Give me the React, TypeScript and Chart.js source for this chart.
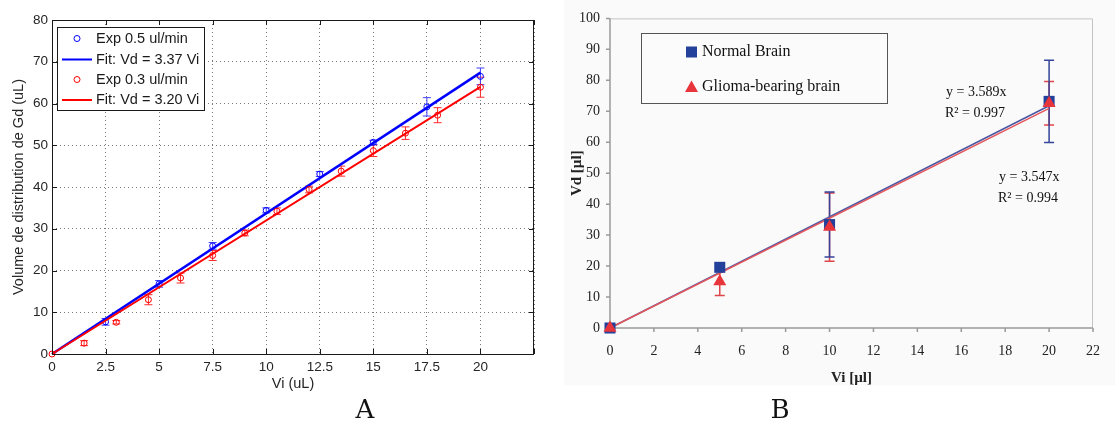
import React, { useEffect, useRef } from "react";
import { Chart, registerables } from "chart.js";
Chart.register(...registerables);

const SANS = "'Liberation Sans', Arial, Helvetica, sans-serif";
const SERIF = "'Liberation Serif', 'Times New Roman', serif";

// ---------------- Panel A data ----------------
const aXTickValues = [0, 2.5, 5, 7.5, 10, 12.5, 15, 17.5, 20, 22.5];
const aXTickLabels = ["0", "2.5", "5", "7.5", "10", "12.5", "15", "17.5", "20", ""];
const aYTickValues = [0, 10, 20, 30, 40, 50, 60, 70, 80];
const aYTickLabels = ["0", "10", "20", "30", "40", "50", "60", "70", "80"];

const exp05X = [2.5, 5, 7.5, 10, 12.5, 15, 17.5, 20];
const exp05Y = [7.7, 16.8, 25.9, 34.4, 43.1, 50.7, 59.2, 66.5];
const exp05Err = [0.8, 0.8, 0.8, 0.6, 0.6, 0.5, 2.2, 2.0];

const exp03X = [0, 1.5, 3, 4.5, 6, 7.5, 9, 10.5, 12, 13.5, 15, 16.5, 18, 20];
const exp03Y = [0, 2.6, 7.6, 13.0, 18.2, 23.6, 29.0, 34.2, 39.4, 43.8, 48.7, 52.9, 57.2, 63.9];
const exp03Err = [0, 0.6, 0.4, 1.2, 1.2, 1.2, 0.7, 0.8, 0.8, 1.2, 1.4, 1.5, 1.8, 2.4];

const aFitX = [0, 20];
const fit05Slope = 3.37;
const fit03Slope = 3.2;
const aLegendLabels = ["Exp 0.5 ul/min", "Fit: Vd = 3.37 Vi", "Exp 0.3 ul/min", "Fit: Vd = 3.20 Vi"];
const aXTitle = "Vi (uL)";
const aYTitle = "Volume de distribution de Gd (uL)";

// ---------------- Panel B data ----------------
const bXTickValues = [0, 2, 4, 6, 8, 10, 12, 14, 16, 18, 20, 22];
const bYTickValues = [0, 10, 20, 30, 40, 50, 60, 70, 80, 90, 100];

const normalX = [0, 5, 10, 20];
const normalY = [0, 19.6, 33.4, 73.2];
const normalErr = [0, 0, 10.5, 13.3];

const gliomaX = [0, 5, 10, 20];
const gliomaY = [0, 15, 32.6, 72.6];
const gliomaErr = [0, 4.5, 11, 7];

const bFitX = [0, 20];
const normalSlope = 3.589;
const gliomaSlope = 3.547;
const bLegendLabels = ["Normal Brain", "Glioma-bearing brain"];
const bAnnotations = [
  ["y = 3.589x", "R² = 0.997"],
  ["y = 3.547x", "R² = 0.994"],
];
const bXTitle = "Vi [µl]";
const bYTitle = "Vd [µl]";

const toPts = (xs: number[], ys: number[]) => xs.map((x, i) => ({ x, y: ys[i] }));
const fitPts = (xs: number[], k: number) => xs.map((x) => ({ x, y: k * x }));

const errorBarPlugin = {
  id: "errorBars",
  beforeDatasetsDraw(chart: any, _a: any, opts: any) {
    const { ctx, scales } = chart;
    const x = scales.x, y = scales.y;
    const cap = opts.cap ?? 4;
    chart.data.datasets.forEach((ds: any) => {
      if (!ds.errors) return;
      ctx.save();
      ctx.strokeStyle = ds.errorColor;
      ctx.lineWidth = opts.width ?? 1;
      ds.data.forEach((p: any, i: number) => {
        const e = ds.errors[i];
        if (!e) return;
        const px = x.getPixelForValue(p.x);
        const y1 = y.getPixelForValue(p.y - e);
        const y2 = y.getPixelForValue(p.y + e);
        ctx.beginPath();
        ctx.moveTo(px, y1);
        ctx.lineTo(px, y2);
        ctx.moveTo(px - cap, y1);
        ctx.lineTo(px + cap, y1);
        ctx.moveTo(px - cap, y2);
        ctx.lineTo(px + cap, y2);
        ctx.stroke();
      });
      ctx.restore();
    });
  },
};

const boxA = {
  id: "boxA",
  afterDatasetsDraw(chart: any) {
    const { ctx, chartArea: a, scales } = chart;
    ctx.save();
    ctx.strokeStyle = "#1a1a1a";
    ctx.lineWidth = 1;
    ctx.strokeRect(a.left + 0.5, a.top + 0.5, a.right - a.left - 1, a.bottom - a.top);
    ctx.beginPath();
    aXTickValues.forEach((v) => {
      const px = Math.round(scales.x.getPixelForValue(v)) + 0.5;
      ctx.moveTo(px, a.bottom);
      ctx.lineTo(px, a.bottom - 5);
      ctx.moveTo(px, a.top);
      ctx.lineTo(px, a.top + 5);
    });
    aYTickValues.forEach((v) => {
      const py = Math.round(scales.y.getPixelForValue(v)) + 0.5;
      ctx.moveTo(a.left, py);
      ctx.lineTo(a.left + 5, py);
      ctx.moveTo(a.right, py);
      ctx.lineTo(a.right - 5, py);
    });
    ctx.stroke();

    // legend
    const L = 57.5, T = 27.5, W = 147, H = 83;
    ctx.fillStyle = "#ffffff";
    ctx.fillRect(L, T, W, H);
    ctx.strokeStyle = "#1a1a1a";
    ctx.strokeRect(L, T, W, H);
    const rows = [38.5, 59.5, 79.5, 100];
    const cols = ["#0000ff", "#0000ff", "#ff0000", "#ff0000"];
    rows.forEach((ry, i) => {
      ctx.strokeStyle = cols[i];
      if (i % 2 === 0) {
        ctx.lineWidth = 1;
        ctx.beginPath();
        ctx.arc(77, ry, 3, 0, Math.PI * 2);
        ctx.stroke();
      } else {
        ctx.lineWidth = 2;
        ctx.beginPath();
        ctx.moveTo(62, ry);
        ctx.lineTo(92, ry);
        ctx.stroke();
      }
      ctx.fillStyle = "#1a1a1a";
      ctx.font = `14.5px ${SANS}`;
      ctx.textBaseline = "middle";
      ctx.textAlign = "left";
      ctx.fillText(aLegendLabels[i], 96, ry);
    });
    ctx.restore();
  },
};

const axesB = {
  id: "axesB",
  beforeDatasetsDraw(chart: any) {
    const { ctx, chartArea: a, scales } = chart;
    ctx.save();
    ctx.strokeStyle = "#c4c4c4";
    ctx.lineWidth = 1;
    ctx.beginPath();
    ctx.moveTo(a.left, a.top + 0.5);
    ctx.lineTo(a.right - 0.5, a.top + 0.5);
    ctx.lineTo(a.right - 0.5, a.bottom);
    ctx.stroke();
    ctx.strokeStyle = "#9a9a9a";
    ctx.lineWidth = 1.5;
    ctx.beginPath();
    ctx.moveTo(a.left, a.top);
    ctx.lineTo(a.left, a.bottom);
    ctx.lineTo(a.right, a.bottom);
    bXTickValues.forEach((v) => {
      const px = scales.x.getPixelForValue(v);
      ctx.moveTo(px, a.bottom);
      ctx.lineTo(px, a.bottom + 4);
    });
    bYTickValues.forEach((v) => {
      const py = scales.y.getPixelForValue(v);
      ctx.moveTo(a.left, py);
      ctx.lineTo(a.left - 4, py);
    });
    ctx.stroke();
    ctx.restore();
  },
  afterDatasetsDraw(chart: any) {
    const { ctx } = chart;
    ctx.save();
    // legend
    ctx.fillStyle = "#fbfbfb";
    ctx.fillRect(81.5, 33.5, 246, 70);
    ctx.strokeStyle = "#555";
    ctx.lineWidth = 1;
    ctx.strokeRect(81.5, 33.5, 246, 70);
    ctx.fillStyle = "#23409a";
    ctx.fillRect(126, 46.5, 11, 11);
    ctx.fillStyle = "#e8353b";
    ctx.beginPath();
    ctx.moveTo(131.5, 80.5);
    ctx.lineTo(138, 92);
    ctx.lineTo(125, 92);
    ctx.closePath();
    ctx.fill();
    ctx.fillStyle = "#111";
    ctx.font = `16px ${SERIF}`;
    ctx.textBaseline = "middle";
    ctx.textAlign = "left";
    ctx.fillText(bLegendLabels[0], 142, 52);
    ctx.fillText(bLegendLabels[1], 142, 87);
    // annotations
    ctx.font = `14px ${SERIF}`;
    ctx.fillText(bAnnotations[0][0], 386, 92);
    ctx.fillText(bAnnotations[0][1], 385, 113);
    ctx.fillText(bAnnotations[1][0], 439, 177);
    ctx.fillText(bAnnotations[1][1], 438, 198);
    ctx.restore();
  },
};

function PanelA() {
  const ref = useRef<HTMLCanvasElement>(null);
  useEffect(() => {
    const chart = new Chart(ref.current as HTMLCanvasElement, {
      type: "scatter",
      data: {
        datasets: [
          {
            label: aLegendLabels[3],
            type: "line",
            data: fitPts(aFitX, fit03Slope),
            borderColor: "#ff0000",
            borderWidth: 2,
            pointRadius: 0,
            clip: false,
            order: 0,
          } as any,
          {
            label: aLegendLabels[2],
            data: toPts(exp03X, exp03Y),
            pointStyle: "circle",
            pointRadius: 3,
            borderColor: "#ff0000",
            backgroundColor: "rgba(0,0,0,0)",
            borderWidth: 1,
            clip: false,
            errors: exp03Err,
            errorColor: "#ff2a2a",
            order: 1,
          },
          {
            label: aLegendLabels[1],
            type: "line",
            data: fitPts(aFitX, fit05Slope),
            borderColor: "#0000ff",
            borderWidth: 2.5,
            pointRadius: 0,
            clip: false,
            order: 2,
          },
          {
            label: aLegendLabels[0],
            data: toPts(exp05X, exp05Y),
            pointStyle: "circle",
            pointRadius: 3,
            borderColor: "#0000ff",
            backgroundColor: "rgba(0,0,0,0)",
            borderWidth: 1,
            clip: false,
            errors: exp05Err,
            errorColor: "#3f3fff",
            order: 3,
          },
        ] as any,
      },
      options: {
        animation: false,
        responsive: false,
        maintainAspectRatio: false,
        layout: { padding: { top: 20, right: 26, left: 0, bottom: 0 } },
        plugins: {
          legend: { display: false },
          tooltip: { enabled: false },
          errorBars: { cap: 4, width: 1 },
        } as any,
        scales: {
          x: {
            type: "linear",
            min: 0,
            max: 22.5,
            afterBuildTicks: (s: any) => {
              s.ticks = aXTickValues.map((v) => ({ value: v }));
            },
            afterFit: (s: any) => {
              s.height = 46;
            },
            ticks: {
              callback: (_v: any, i: number) => aXTickLabels[i],
              font: { family: SANS, size: 13.5 },
              color: "#262626",
              padding: 5,
              maxRotation: 0,
              autoSkip: false,
            },
            grid: { color: "#7a7a7a", lineWidth: 1, drawTicks: false },
            border: { display: false, dash: [1, 3] },
            title: {
              display: true,
              text: aXTitle,
              font: { family: SANS, size: 14.5 },
              color: "#262626",
              padding: { top: 0, bottom: 7 },
            },
          },
          y: {
            type: "linear",
            min: 0,
            max: 80,
            afterBuildTicks: (s: any) => {
              s.ticks = aYTickValues.map((v) => ({ value: v }));
            },
            afterFit: (s: any) => {
              s.width = 52;
            },
            ticks: {
              callback: (_v: any, i: number) => aYTickLabels[i],
              font: { family: SANS, size: 13.5 },
              color: "#262626",
              padding: 4,
              autoSkip: false,
            },
            grid: { color: "#7a7a7a", lineWidth: 1, drawTicks: false },
            border: { display: false, dash: [1, 3] },
            title: {
              display: true,
              text: aYTitle,
              font: { family: SANS, size: 14.5 },
              color: "#262626",
              padding: { top: 10, bottom: 0 },
            },
          },
        },
      },
      plugins: [errorBarPlugin, boxA],
    });
    return () => chart.destroy();
  }, []);
  return (
    <canvas
      ref={ref}
      width={560}
      height={400}
      style={{ position: "absolute", left: 0, top: 0, width: 560, height: 400 }}
    />
  );
}

function PanelB() {
  const ref = useRef<HTMLCanvasElement>(null);
  useEffect(() => {
    const chart = new Chart(ref.current as HTMLCanvasElement, {
      type: "scatter",
      data: {
        datasets: [
          {
            label: bLegendLabels[1],
            data: toPts(gliomaX, gliomaY),
            pointStyle: "triangle",
            pointRadius: 7.5,
            backgroundColor: "#e8353b",
            borderColor: "#e8353b",
            borderWidth: 0,
            clip: false,
            errors: gliomaErr,
            errorColor: "#e0454a",
            order: 0,
          },
          {
            label: bLegendLabels[0],
            data: toPts(normalX, normalY),
            pointStyle: "rect",
            pointRadius: 7.8,
            backgroundColor: "#23409a",
            borderColor: "#23409a",
            borderWidth: 0,
            clip: false,
            errors: normalErr,
            errorColor: "#34449a",
            order: 1,
          },
          {
            label: "fit glioma",
            type: "line",
            data: fitPts(bFitX, gliomaSlope),
            borderColor: "#e4565b",
            borderWidth: 1.5,
            pointRadius: 0,
            clip: false,
            order: 2,
          },
          {
            label: "fit normal",
            type: "line",
            data: fitPts(bFitX, normalSlope),
            borderColor: "#4a58a4",
            borderWidth: 1.5,
            pointRadius: 0,
            clip: false,
            order: 3,
          },
        ] as any,
      },
      options: {
        animation: false,
        responsive: false,
        maintainAspectRatio: false,
        layout: { padding: { top: 15, right: 8, left: 0, bottom: 0 } },
        plugins: {
          legend: { display: false },
          tooltip: { enabled: false },
          errorBars: { cap: 5, width: 1.5 },
        } as any,
        scales: {
          x: {
            type: "linear",
            min: 0,
            max: 22,
            afterBuildTicks: (s: any) => {
              s.ticks = bXTickValues.map((v) => ({ value: v }));
            },
            afterFit: (s: any) => {
              s.height = 72;
            },
            ticks: {
              font: { family: SERIF, size: 14 },
              color: "#222",
              padding: 15,
              maxRotation: 0,
              autoSkip: false,
            },
            grid: { display: false, drawTicks: false },
            border: { display: false },
            title: {
              display: true,
              text: bXTitle,
              font: { family: SERIF, size: 15, weight: "bold" },
              color: "#222",
              padding: { top: 0, bottom: 13 },
            },
          },
          y: {
            type: "linear",
            min: 0,
            max: 100,
            afterBuildTicks: (s: any) => {
              s.ticks = bYTickValues.map((v) => ({ value: v }));
            },
            afterFit: (s: any) => {
              s.width = 50;
            },
            ticks: {
              font: { family: SERIF, size: 14 },
              color: "#222",
              padding: 10,
              autoSkip: false,
            },
            grid: { display: false, drawTicks: false },
            border: { display: false },
            title: {
              display: true,
              text: bYTitle,
              font: { family: SERIF, size: 15, weight: "bold" },
              color: "#222",
              padding: { top: 8, bottom: 0 },
            },
          },
        },
      },
      plugins: [errorBarPlugin, axesB],
    });
    return () => chart.destroy();
  }, []);
  return (
    <canvas
      ref={ref}
      width={555}
      height={400}
      style={{ position: "absolute", left: 560, top: 0, width: 555, height: 400 }}
    />
  );
}

export default function App() {
  useEffect(() => {
    document.body.style.margin = "0";
  }, []);
  const labelStyle: React.CSSProperties = {
    position: "absolute",
    top: 394,
    fontFamily: "'DejaVu Serif', serif",
    fontSize: 26,
    lineHeight: "30px",
    color: "#111",
    transform: "translateX(-50%)",
  };
  return (
    <div style={{ position: "relative", width: 1115, height: 430, background: "#fff", overflow: "hidden" }}>
      <div style={{ position: "absolute", left: 564, top: 0, width: 551, height: 385, background: "#fafafa" }} />
      <PanelA />
      <PanelB />
      <div style={{ ...labelStyle, left: 365 }}>A</div>
      <div style={{ ...labelStyle, left: 780 }}>B</div>
    </div>
  );
}
